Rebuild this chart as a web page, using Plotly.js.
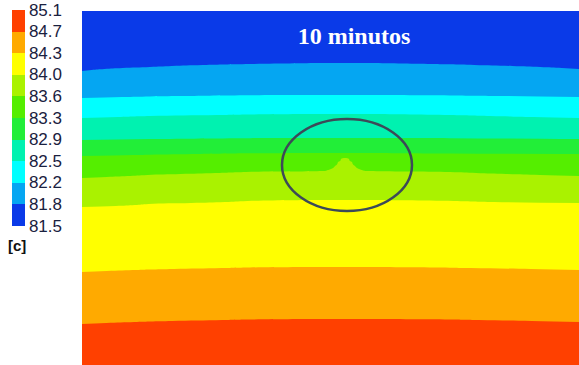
<!DOCTYPE html>
<html><head><meta charset="utf-8">
<script src="https://cdn.plot.ly/plotly-3.0.1.min.js"></script>
<style>html,body{margin:0;padding:0;background:#fff;} #chart{width:579px;height:365px;}</style>
</head><body><div id="chart"></div>
<script>
// Contour levels shown on the colour bar (bottom to top)
const levelLabels = ['81.5','81.8','82.2','82.5','82.9','83.3','83.6','84.0','84.3','84.7','85.1'];
const levelStart = 81.5;
const levelStep = 0.36;

// Sampled horizontal stations across the domain
const colX = [0, 68, 168, 240, 244, 249, 253, 256, 259, 263, 267, 270, 273, 277, 282, 288, 368, 497];
const depthMax = 354;

// Depth of each iso-line at every station
const iso818 = [60, 56, 53, 52, 52, 52, 52, 52, 52, 52, 52, 52, 52, 52, 52, 52, 53.5, 58];
const iso822 = [87, 85.5, 84.3, 84, 84, 84, 84, 84, 84, 84, 84, 84, 84, 84, 84, 84, 84.5, 86];
const iso825 = [107, 105, 103.4, 103, 103, 103, 103, 103, 103, 103, 103, 103, 103, 103, 103, 103, 104, 107];
const iso829 = [129, 128, 127.2, 127, 127, 127, 127, 127, 127, 127, 127, 127, 127, 127, 127, 127, 127.2, 128];
const iso833 = [145, 143.6, 142.3, 142, 142, 142, 142, 142, 142, 142, 142, 142, 142, 142, 142, 142, 142.5, 143];
const iso836 = [167, 163.7, 160.7, 160, 159.5, 158, 155, 151, 148, 147, 148, 151, 155, 158, 159.5, 160, 161, 165];
const iso840 = [196, 192.7, 189.7, 189, 189, 189, 189, 189, 189, 189, 189, 189, 189, 189, 189, 189, 189.7, 192];
const iso843 = [261, 258.6, 256.5, 256, 256, 256, 256, 256, 256, 256, 256, 256, 256, 256, 256, 256, 256.7, 259];
const iso847 = [313, 310.5, 308.5, 308, 308, 308, 308, 308, 308, 308, 308, 308, 308, 308, 308, 308, 308.5, 311];

// Band colours, lowest to highest
const bandColors = ['#0a3ae8', '#05a6f2', '#00ffff', '#00f2b0', '#22ee38', '#55ee00', '#aaf200', '#ffff00', '#ffaa00', '#ff4000'];

const isoLines = [iso818, iso822, iso825, iso829, iso833, iso836, iso840, iso843, iso847];

// Build the grid the contour trace needs from the iso-line table
const rowY = [];
for (let y = 0; y <= depthMax; y += 1) rowY.push(y);
const zGrid = rowY.map(y => colX.map((_, j) => {
  const ys = [0].concat(isoLines.map(b => b[j]), [depthMax]);
  const zs = [levelStart].concat(isoLines.map((_, k) => levelStart + (k + 1) * levelStep), [levelStart + 10 * levelStep]);
  for (let k = 0; k < ys.length - 1; k++) {
    if (y <= ys[k + 1]) return zs[k] + (zs[k + 1] - zs[k]) * (y - ys[k]) / (ys[k + 1] - ys[k]);
  }
  return zs[zs.length - 1];
}));

const nIn = isoLines.length; // 9 internal levels
const nBands = bandColors.length;
const contourScale = bandColors.map((c, k) => [k / (nBands - 1), c]);
const barScale = [];
bandColors.forEach((c, k) => { barScale.push([k / nBands, c]); barScale.push([(k + 1) / nBands, c]); });
const tickvals = levelLabels.map((_, i) => levelStart + i * levelStep);
const levelEnd = levelStart + nBands * levelStep;

const W = 579, H = 365, ML = 82, MT = 11;
const plotW = W - ML, plotH = H - MT;

const field = {
  type: 'contour',
  x: colX, y: rowY, z: zGrid,
  contours: { start: levelStart + levelStep, end: levelStart + nIn * levelStep, size: levelStep, coloring: 'fill', showlines: false },
  line: { width: 0, smoothing: 1.3 },
  colorscale: contourScale,
  showscale: false,
  hoverinfo: 'skip'
};

// carrier for the discrete colour bar only
const scaleCarrier = {
  type: 'scatter', mode: 'markers',
  x: [colX[0]], y: [rowY[0]],
  hoverinfo: 'skip',
  marker: {
    size: 1, opacity: 0,
    color: [levelStart], cmin: levelStart, cmax: levelEnd,
    colorscale: barScale, showscale: true,
    colorbar: {
      xref: 'container', yref: 'container',
      x: 12 / W, xanchor: 'left',
      y: 1 - 10 / H, yanchor: 'top',
      len: 216, lenmode: 'pixels',
      thickness: 13, thicknessmode: 'pixels',
      outlinewidth: 0, xpad: 0, ypad: 0,
      ticks: '', tickvals: tickvals, ticktext: levelLabels,
      tickfont: { family: 'Liberation Sans, Arial, sans-serif', size: 17, color: '#1a2140' }
    }
  }
};

const layout = {
  width: W, height: H,
  margin: { l: ML, r: 0, t: MT, b: 0, pad: 0 },
  paper_bgcolor: '#ffffff', plot_bgcolor: '#ffffff',
  showlegend: false,
  xaxis: { range: [0, 497], visible: false, fixedrange: true },
  yaxis: { range: [depthMax, 0], visible: false, fixedrange: true },
  title: {
    text: '<b>10 minutos</b>',
    font: { family: 'Liberation Serif, Times New Roman, serif', size: 24, color: '#ffffff' },
    xref: 'container', yref: 'container',
    x: 354 / W, xanchor: 'center',
    y: 1 - 36 / H, yanchor: 'middle'
  },
  shapes: [{
    type: 'circle', xref: 'x', yref: 'y',
    x0: 200, x1: 330, y0: 108, y1: 200,
    line: { color: '#3c4a58', width: 2.5 }
  }],
  annotations: [{
    text: '<b>[c]</b>', showarrow: false,
    xref: 'paper', yref: 'paper',
    x: (17 - ML) / plotW, y: (H - 245) / plotH,
    xanchor: 'center', yanchor: 'middle',
    font: { family: 'Liberation Sans, Arial, sans-serif', size: 15, color: '#111111' }
  }]
};

Plotly.newPlot('chart', [field, scaleCarrier], layout, { displayModeBar: false, staticPlot: true });
</script>
</body></html>
